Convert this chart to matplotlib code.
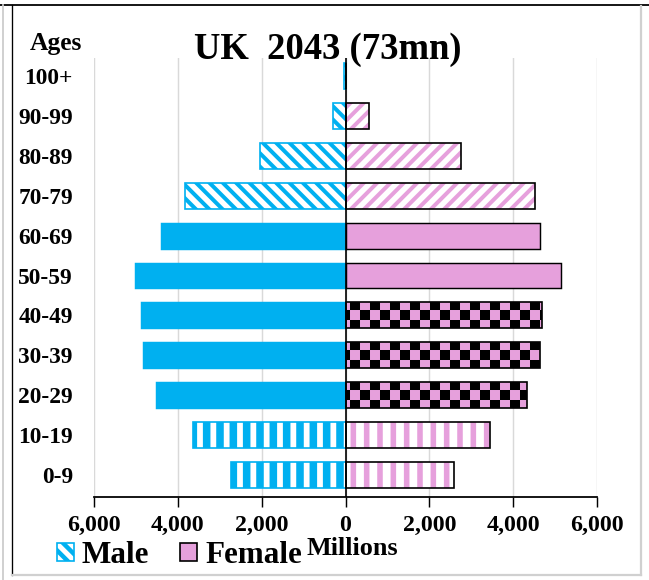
import matplotlib
matplotlib.use('Agg')
import matplotlib.pyplot as plt
import matplotlib.hatch as mhatch
from matplotlib.path import Path
from matplotlib.patches import Patch
from matplotlib.lines import Line2D
from matplotlib.ticker import FuncFormatter

# ---------------- data ----------------
ages = ['0-9', '10-19', '20-29', '30-39', '40-49', '50-59',
        '60-69', '70-79', '80-89', '90-99', '100+']
male = [2720, 3630, 4510, 4820, 4870, 5010, 4390, 3820, 2030, 310, 30]
female = [2600, 3440, 4320, 4630, 4680, 5130, 4650, 4510, 2745, 570, 15]
xticks = [-6000, -4000, -2000, 0, 2000, 4000, 6000]
title = 'UK  2043 (73mn)'

# ---------------- styles ----------------
male_style = ['vert', 'vert', 'solid', 'solid', 'solid', 'solid', 'solid',
              'diag', 'diag', 'diag', 'diag']
female_style = ['vert', 'vert', 'check', 'check', 'check', 'solid', 'solid',
                'diag', 'diag', 'diag', 'diag']
BLUE = '#00B0F0'
PINK = '#E6A0DC'
FONT = 'Liberation Serif'


# custom checkerboard hatch (replaces the unused 'O' pattern)
class CheckerHatch(mhatch.HatchPatternBase):
    def __init__(self, hatch, density):
        self.n = 8 if 'O' in hatch else 0
        self.num_vertices = (self.n * self.n // 2) * 5

    def set_vertices_and_codes(self, vertices, codes):
        n = self.n
        s = 1.0 / n
        k = 0
        for i in range(n):
            for j in range(n):
                if (i + j) % 2 == 0:
                    x0, y0 = j * s, i * s
                    vertices[k:k + 5] = [[x0, y0], [x0 + s, y0], [x0 + s, y0 + s],
                                         [x0, y0 + s], [x0, y0]]
                    codes[k:k + 5] = [Path.MOVETO, Path.LINETO, Path.LINETO,
                                      Path.LINETO, Path.CLOSEPOLY]
                    k += 5


mhatch._hatch_types = [t for t in mhatch._hatch_types
                       if t is not mhatch.LargeCircles] + [CheckerHatch]

W, H, DPI = 649, 580, 80
plt.rcParams['font.family'] = [FONT, 'DejaVu Serif']
plt.rcParams['font.weight'] = 'bold'

fig = plt.figure(figsize=(W / DPI, H / DPI), dpi=DPI)


def fx(x):
    return x / W


def fy(y):
    return 1 - y / H


ax = fig.add_axes([fx(94), fy(497), fx(597 - 94), (497 - 58) / H])

BH = 0.65
ypos = list(range(len(ages)))


def set_hlw(patches, lw):
    for p in patches:
        if hasattr(p, 'set_hatch_linewidth'):
            p.set_hatch_linewidth(lw)


def draw(y, w, style, color, edge, side):
    if style == 'solid':
        ax.barh(y, w, height=BH, color=color, edgecolor=edge, linewidth=1.3, zorder=3)
        return
    if style == 'diag':
        face, hcol, hatch = 'white', color, ('\\\\' if side == 'm' else '//')
        lw = 3.6
    elif style == 'vert':
        face, hcol, hatch = 'white', color, '|'
        lw = 6.8 if side == 'm' else 5.0
    else:
        face, hcol, hatch = color, 'black', 'O'
        lw = 0.01
    b = ax.barh(y, w, height=BH, facecolor=face, edgecolor=hcol,
                linewidth=0, hatch=hatch, zorder=3)
    set_hlw(b.patches, lw)
    ax.barh(y, w, height=BH, facecolor='none', edgecolor=edge,
            linewidth=1.5, zorder=4)


for i in ypos:
    draw(i, -male[i], male_style[i], BLUE, BLUE, 'm')
    draw(i, female[i], female_style[i], PINK, 'black', 'f')

ax.axvline(0, color='black', lw=1.5, zorder=6)

ax.set_xlim(-6000, 6000)
ax.set_ylim(-0.55, 10.45)
ax.set_xticks(xticks)
ax.xaxis.set_major_formatter(FuncFormatter(lambda v, p: f'{abs(int(v)):,}'))
ax.set_yticks(ypos)
ax.set_yticklabels(ages)
ax.set_axisbelow(True)
ax.xaxis.grid(True, color='#D9D9D9', lw=1.3, zorder=0)

for s in ['top', 'right', 'left']:
    ax.spines[s].set_visible(False)
ax.spines['bottom'].set_linewidth(1.6)
ax.spines['bottom'].set_color('black')
ax.tick_params(axis='x', direction='out', length=9, width=1.3, pad=7,
               labelsize=21.5, colors='black')
ax.tick_params(axis='y', length=0, pad=19, labelsize=21)
for t in ax.get_xticklabels() + ax.get_yticklabels():
    t.set_fontweight('bold')
    t.set_fontfamily(FONT)

# texts
fig.text(fx(328), fy(59), title, ha='center', va='baseline',
         fontsize=33, fontweight='bold', family=FONT)
fig.text(fx(56), fy(50), 'Ages', ha='center', va='baseline',
         fontsize=23, fontweight='bold', family=FONT)
fig.text(fx(352), fy(555), 'Millions', ha='center', va='baseline',
         fontsize=23.5, fontweight='bold', family=FONT)

handles = [Patch(facecolor='white', edgecolor=BLUE, hatch='\\\\', linewidth=1.5),
           Patch(facecolor=PINK, edgecolor='black', linewidth=1.5)]
leg = fig.legend(handles, ['Male', 'Female'], loc='lower left',
                 bbox_to_anchor=(fx(57), fy(570)), ncol=2, frameon=False,
                 prop={'family': FONT, 'weight': 'bold', 'size': 28},
                 handlelength=0.55, handleheight=0.55, handletextpad=0.25,
                 columnspacing=1.0, borderpad=0.0, borderaxespad=0.0)
set_hlw(leg.get_patches(), 4.0)

# frame lines
fig.add_artist(Line2D([fx(0), fx(649)], [fy(5), fy(5)], color='black', lw=1.6,
                      transform=fig.transFigure))
fig.add_artist(Line2D([fx(12), fx(12)], [fy(5), fy(575)], color='black', lw=1.2,
                      transform=fig.transFigure))
fig.add_artist(Line2D([fx(3), fx(3)], [fy(5), fy(580)], color='#CCCCCC', lw=1.6,
                      transform=fig.transFigure))
fig.add_artist(Line2D([fx(641), fx(641)], [fy(6), fy(575)], color='#D0D0D0', lw=2,
                      transform=fig.transFigure))
fig.add_artist(Line2D([fx(12), fx(641)], [fy(575), fy(575)], color='#D0D0D0', lw=2,
                      transform=fig.transFigure))

fig.savefig('out.png', dpi=DPI)
